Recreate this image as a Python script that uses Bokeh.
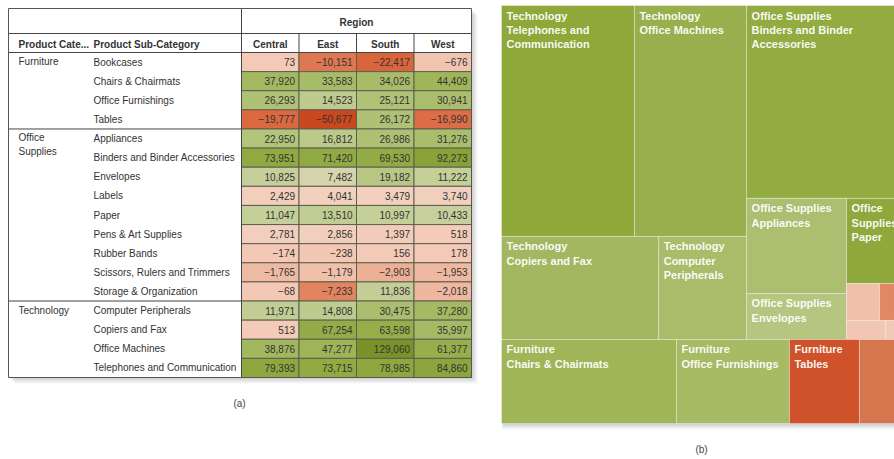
from bokeh.plotting import figure
from bokeh.models import Range1d
from bokeh.embed import file_html
from bokeh.resources import INLINE
from bokeh.core.properties import value

# ---------------- data ----------------
regions = ["Central", "East", "South", "West"]
categories = ["Furniture", "Office\nSupplies", "Technology"]
subcategories = [
    "Bookcases", "Chairs & Chairmats", "Office Furnishings", "Tables",
    "Appliances", "Binders and Binder Accessories", "Envelopes", "Labels",
    "Paper", "Pens & Art Supplies", "Rubber Bands", "Scissors, Rulers and Trimmers",
    "Storage & Organization",
    "Computer Peripherals", "Copiers and Fax", "Office Machines",
    "Telephones and Communication",
]
sub_category_index = [0, 0, 0, 0, 1, 1, 1, 1, 1, 1, 1, 1, 1, 2, 2, 2, 2]

profit_central = [73, 37920, 26293, -19777, 22950, 73951, 10825, 2429, 11047, 2781,
                  -174, -1765, -68, 11971, 513, 38876, 79393]
profit_east = [-10151, 33583, 14523, -50677, 16812, 71420, 7482, 4041, 13510, 2856,
               -238, -1179, -7233, 14808, 67254, 47277, 73715]
profit_south = [-22417, 34026, 25121, 26172, 26986, 69530, 19182, 3479, 10997, 1397,
                156, -2903, 11836, 30475, 63598, 129060, 78985]
profit_west = [-676, 44409, 30941, -16990, 31276, 92273, 11222, 3740, 10433, 518,
               178, -1953, -2018, 37280, 35997, 61377, 84860]
profits = [profit_central, profit_east, profit_south, profit_west]

# treemap: relative sales (size) for each visible leaf
tm_names = ["Telephones", "Office Machines", "Copiers", "Computer Peripherals",
            "Binders", "Appliances", "Envelopes", "Paper",
            "Labels", "Scissors", "Pens", "Rubber Bands",
            "Chairs", "Office Furnishings", "Tables", "Bookcases"]
tm_size = [30700, 25900, 16200, 9060,
           29300, 9500, 4600, 4420,
           1220, 700, 740, 250,
           14700, 9490, 5880, 3280]
tm_labels = ["Technology\nTelephones and\nCommunication", "Technology\nOffice Machines",
             "Technology\nCopiers and Fax", "Technology\nComputer\nPeripherals",
             "Office Supplies\nBinders and Binder\nAccessories", "Office Supplies\nAppliances",
             "Office Supplies\nEnvelopes", "Office\nSupplies\nPaper",
             "", "", "", "",
             "Furniture\nChairs & Chairmats", "Furniture\nOffice Furnishings",
             "Furniture\nTables", ""]
tm_colors = ["#8ea83a", "#98af4e", "#a3b760", "#aabc6a",
             "#93ac42", "#acbe70", "#b6c580", "#8ea83c",
             "#f0c0aa", "#e18764", "#f1c6b2", "#f2c8b6",
             "#a0b558", "#a7ba64", "#ce522a", "#d6764e"]

# ---------------- helpers ----------------
stops = [(-50677, (201, 72, 30)), (-20000, (218, 104, 64)), (-8000, (224, 124, 86)),
         (-2500, (237, 180, 154)), (0, (243, 202, 183)), (5000, (241, 210, 192)),
         (8000, (207, 213, 168)), (12000, (194, 205, 148)), (25000, (176, 194, 118)),
         (40000, (161, 183, 94)), (75000, (144, 169, 64)), (130000, (120, 147, 40))]


def color_for(v):
    if v <= stops[0][0]:
        c = stops[0][1]
    elif v >= stops[-1][0]:
        c = stops[-1][1]
    else:
        for (a, ca), (b, cb) in zip(stops[:-1], stops[1:]):
            if a <= v <= b:
                t = (v - a) / (b - a)
                c = tuple(int(round(ca[k] + t * (cb[k] - ca[k]))) for k in range(3))
                break
    return "#%02x%02x%02x" % c


def fmt(v):
    s = f"{abs(v):,}"
    return ("\u2212" + s) if v < 0 else s


FONT = value("Liberation Sans")

p = figure(width=894, height=459, x_range=Range1d(0, 894), y_range=Range1d(459, 0),
           toolbar_location=None, output_backend="svg", min_border=0,
           x_axis_location=None, y_axis_location=None, outline_line_color=None,
           background_fill_color="white", border_fill_color="white")
p.grid.visible = False

# ---------------- table (a) ----------------
TX0, TXV, TX1 = 8, 241, 471
TY0, TYH1, TYH2, TY1 = 8, 33, 52, 377
n = len(subcategories)
rh = (TY1 - TYH2) / n
cw = (TX1 - TXV) / len(regions)

for i in range(1, 7):
    p.quad(left=TX0 + i, right=TX1 + i, top=TY0 + i, bottom=TY1 + i,
           fill_color="black", fill_alpha=0.03, line_color=None)
p.quad(left=TX0, right=TX1, top=TY0, bottom=TY1, fill_color="white", line_color=None)

L, R, T, B, C = [], [], [], [], []
tx, ty, tt = [], [], []
for j, vals in enumerate(profits):
    for i, v in enumerate(vals):
        L.append(TXV + j * cw); R.append(TXV + (j + 1) * cw)
        T.append(TYH2 + i * rh); B.append(TYH2 + (i + 1) * rh)
        C.append(color_for(v))
        tx.append(TXV + (j + 1) * cw - 4); ty.append(TYH2 + (i + 0.5) * rh); tt.append(fmt(v))
p.quad(left=L, right=R, top=T, bottom=B, fill_color=C, line_color="#5e5e50", line_width=1)
p.text(x=tx, y=ty, text=tt, text_align="right", text_baseline="middle",
       text_font=FONT, text_font_size="10px", text_color="#333333")

# sub-category labels
p.text(x=[93] * n, y=[TYH2 + (i + 0.5) * rh for i in range(n)], text=subcategories,
       text_align="left", text_baseline="middle", text_font=FONT,
       text_font_size="10px", text_color="#333333")

# category labels and separators
first_rows = [sub_category_index.index(k) for k in range(len(categories))]
p.text(x=[18] * len(categories), y=[TYH2 + r * rh + 3.5 for r in first_rows], text=categories,
       text_align="left", text_baseline="top", text_font=FONT, text_font_size="10px",
       text_color="#333333", text_line_height=1.2)
sep_y = [TYH2 + r * rh for r in first_rows[1:]]
p.segment(x0=[TX0] * len(sep_y), y0=sep_y, x1=[TXV] * len(sep_y), y1=sep_y,
          line_color="#444444", line_width=1)

# header
p.segment(x0=[TX0, TX0], y0=[TYH1, TYH2], x1=[TX1, TX1], y1=[TYH1, TYH2],
          line_color="#444444", line_width=1)
p.segment(x0=[TXV], y0=[TY0], x1=[TXV], y1=[TY1], line_color="#444444", line_width=1)
p.segment(x0=[TXV + k * cw for k in range(1, 4)], y0=[TYH1] * 3,
          x1=[TXV + k * cw for k in range(1, 4)], y1=[TYH2] * 3,
          line_color="#444444", line_width=1)
p.text(x=[(TXV + TX1) / 2], y=[(TY0 + TYH1) / 2 + 1], text=["Region"], text_align="center",
       text_baseline="middle", text_font=FONT, text_font_size="10px",
       text_font_style="bold", text_color="#333333")
p.text(x=[TXV + (k + 0.5) * cw for k in range(4)], y=[(TYH1 + TYH2) / 2 + 1] * 4, text=regions,
       text_align="center", text_baseline="middle", text_font=FONT, text_font_size="10px",
       text_font_style="bold", text_color="#333333")
p.text(x=[18, 93], y=[(TYH1 + TYH2) / 2 + 1] * 2,
       text=["Product Cate...", "Product Sub-Category"], text_align="left",
       text_baseline="middle", text_font=FONT, text_font_size="10px",
       text_font_style="bold", text_color="#333333")
p.quad(left=TX0, right=TX1, top=TY0, bottom=TY1, fill_color=None, line_color="#555555",
       line_width=1)

p.text(x=[239], y=[403], text=["(a)"], text_align="center", text_baseline="middle",
       text_font=FONT, text_font_size="10px", text_color="#444444")

# ---------------- treemap (b) ----------------
size_of = dict(zip(tm_names, tm_size))
tree = ("v", [
    ("h", [
        ("v", [("h", ["Telephones", "Office Machines"]),
               ("h", ["Copiers", "Computer Peripherals"])]),
        ("v", ["Binders",
               ("h", [("v", ["Appliances", "Envelopes"]),
                      ("v", ["Paper", ("v", [("h", ["Labels", "Scissors"]),
                                             ("h", ["Pens", "Rubber Bands"])])])])]),
    ]),
    ("h", ["Chairs", "Office Furnishings", "Tables", "Bookcases"]),
])


def node_sum(node):
    if isinstance(node, str):
        return size_of[node]
    return sum(node_sum(k) for k in node[1])


def layout(node, x0, y0, x1, y1, out):
    if isinstance(node, str):
        out[node] = (x0, y0, x1, y1)
        return
    orient, kids = node
    sums = [node_sum(k) for k in kids]
    tot = sum(sums)
    pos = x0 if orient == "h" else y0
    for k, s in zip(kids, sums):
        if orient == "h":
            w = (x1 - x0) * s / tot
            layout(k, pos, y0, pos + w, y1, out)
            pos += w
        else:
            h = (y1 - y0) * s / tot
            layout(k, x0, pos, x1, pos + h, out)
            pos += h


MX0, MY0, MX1, MY1 = 501, 5, 898, 423
rects = {}
layout(tree, MX0, MY0, MX1, MY1, rects)

for i in range(1, 7):
    p.quad(left=MX0 + 1, right=MX1, top=MY0 + i, bottom=MY1 + i,
           fill_color="black", fill_alpha=0.03, line_color=None)

ql = [rects[nm][0] for nm in tm_names]
qt = [rects[nm][1] for nm in tm_names]
qr = [rects[nm][2] for nm in tm_names]
qb = [rects[nm][3] for nm in tm_names]
p.quad(left=ql, right=qr, top=qt, bottom=qb, fill_color=tm_colors,
       line_color="white", line_alpha=0.35, line_width=1)
p.text(x=[v + 5 for v in ql], y=[v + 4 for v in qt], text=tm_labels, text_align="left",
       text_baseline="top", text_font=FONT, text_font_size="11px", text_font_style="bold",
       text_color="white", text_alpha=0.95, text_line_height=1.2)

p.text(x=[701], y=[449], text=["(b)"], text_align="center", text_baseline="middle",
       text_font=FONT, text_font_size="10px", text_color="#444444")

open("out.html", "w").write(file_html(p, INLINE))
